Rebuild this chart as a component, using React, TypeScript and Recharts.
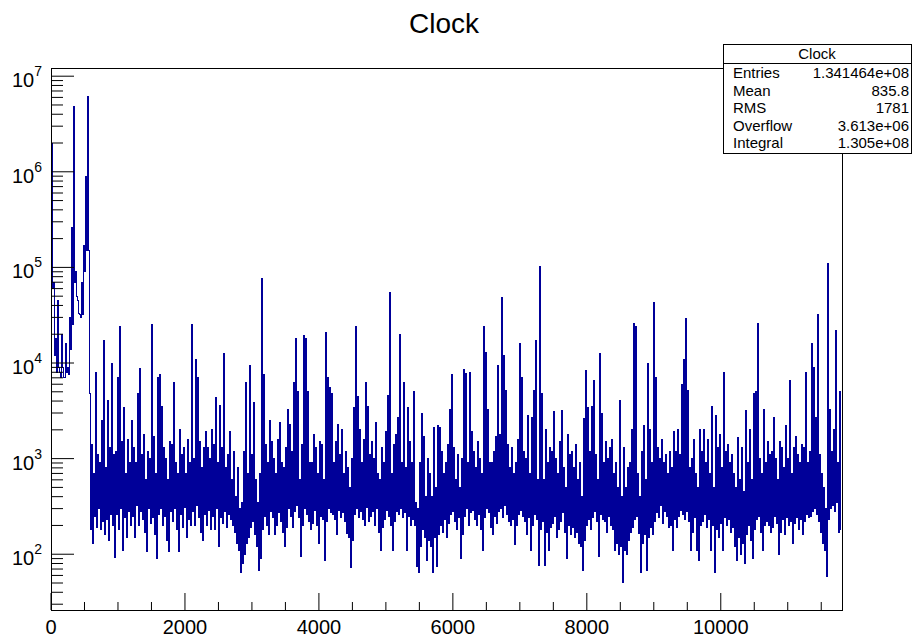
import React from "react";
import { LineChart, Line, XAxis, YAxis } from "recharts";

// ROOT-style "Clock" histogram, log y
const W = 913;
const H = 637;
const FRAME = { left: 51, right: 842, top: 68, bottom: 610 };
const BIN_WIDTH = 29.87;
const X_MAX = 11810;
const Y_MIN = 26.1;
const Y_MAX = 1.218e7;
const LINE = "#000099";
const FONT = "'Liberation Sans', Arial, Helvetica, sans-serif";

// per ~2px column: highest bin content
const counts = [
  2000000, 70000, 18000, 45000, 8000, 20000, 7000, 16000, 9000, 30000,
  260000, 4800000, 90000, 45000, 32000, 70000, 170000, 900000, 6200000, 4800,
  1400, 700, 7900, 1100, 900, 2500, 17000, 800, 4100, 1300,
  10000, 1100, 1200, 7000, 24000, 1500, 3400, 700, 1600, 900,
  2500, 1300, 900, 4800, 8800, 1100, 1800, 600, 1200, 1000,
  25000, 1700, 700, 7000, 7600, 3500, 1300, 1000, 600, 1500,
  1400, 6300, 900, 700, 2000, 1100, 1300, 700, 1600, 900,
  25000, 1000, 11000, 7000, 1500, 800, 1300, 1900, 1300, 1000,
  2000, 1400, 4400, 900, 3600, 1300, 12700, 800, 1100, 1900,
  600, 1200, 400, 800, 300, 350, 1200, 6200, 700, 9500,
  1100, 3900, 600, 350, 700, 76000, 7500, 1400, 900, 2500,
  1500, 1000, 700, 1600, 2400, 900, 800, 1300, 3300, 2300,
  1200, 6200, 18000, 5000, 600, 1400, 19500, 18000, 5000, 900,
  900, 1800, 1300, 700, 1500, 1400, 600, 21000, 7100, 5600,
  4800, 900, 1500, 2300, 1100, 2000, 700, 1200, 800, 500,
  1000, 3400, 24000, 4500, 2000, 900, 1600, 6300, 3500, 1100,
  1500, 1000, 2400, 700, 600, 1300, 900, 1900, 4600, 55000,
  700, 1400, 1800, 2700, 20000, 900, 6300, 800, 3400, 1500,
  900, 5000, 350, 300, 900, 3000, 1700, 400, 1000, 700,
  400, 2100, 500, 2200, 2100, 1200, 700, 900, 1400, 3300,
  7500, 1300, 600, 1100, 500, 1000, 8600, 7800, 900, 7900,
  1900, 1200, 800, 1500, 1000, 700, 24000, 13000, 3300, 900,
  900, 1200, 1700, 9500, 1800, 48000, 12000, 5200, 1400, 800,
  1300, 700, 900, 1600, 16000, 7100, 1200, 1000, 2800, 700,
  2700, 5200, 17000, 600, 103000, 4800, 600, 2000, 900, 1300,
  1200, 3100, 1000, 700, 1500, 3200, 800, 500, 1800, 1100,
  1200, 800, 1400, 600, 900, 400, 2600, 8400, 3400, 1200,
  3500, 6600, 1100, 600, 12700, 3000, 900, 1500, 1000, 1300,
  1600, 700, 900, 500, 4100, 400, 1300, 500, 800, 900,
  2000, 26000, 24000, 700, 400, 1200, 2200, 600, 10000, 2000,
  900, 43000, 7100, 1300, 1000, 1600, 900, 1100, 700, 1200,
  800, 1900, 1200, 2000, 1100, 6000, 11000, 29000, 5200, 800,
  1000, 1600, 700, 500, 2000, 1200, 2000, 900, 1600, 700,
  3500, 500, 2800, 1300, 1800, 800, 7900, 1200, 1400, 900,
  1100, 700, 500, 1650, 600, 1300, 450, 3200, 900, 2000,
  600, 4800, 5000, 26000, 1000, 700, 3300, 900, 1500, 1100,
  1200, 2700, 1000, 600, 1500, 1300, 800, 2200, 1000, 6600,
  700, 1300, 1700, 1100, 900, 1400, 1300, 8000, 900, 1200,
  16000, 9000, 2700, 32000, 1100, 700, 500, 300, 109000, 3300,
  1200, 2000, 22000, 900, 5000,
];

// per column: lowest bin content in the same column
const lows = [
  60000, 12000, 8000, 9000, 7000, 9000, 7000, 8000, 7500, 14000,
  25000, 70000, 50000, 33000, 30000, 32000, 90000, 150000, 150000, 180,
  130, 250, 190, 300, 180, 220, 160, 230, 140, 260,
  200, 92, 260, 180, 300, 110, 240, 150, 280, 200,
  250, 150, 320, 200, 280, 230, 170, 106, 300, 210,
  240, 160, 90, 260, 300, 200, 250, 140, 106, 280,
  220, 300, 180, 106, 260, 190, 310, 150, 230, 200,
  280, 200, 320, 240, 170, 140, 260, 200, 290, 180,
  250, 180, 300, 120, 240, 210, 280, 190, 260, 230,
  200, 170, 130, 110, 64, 80, 100, 130, 150, 190,
  220, 160, 120, 68, 90, 180, 250, 200, 160, 280,
  240, 160, 200, 270, 220, 170, 120, 190, 300, 250,
  190, 280, 320, 240, 95, 200, 300, 260, 220, 180,
  210, 290, 200, 130, 250, 230, 87, 220, 300, 270,
  260, 230, 160, 290, 240, 270, 220, 165, 150, 73,
  140, 260, 300, 240, 280, 230, 200, 310, 220, 250,
  280, 200, 300, 170, 110, 190, 230, 290, 250, 200,
  110, 220, 280, 260, 300, 240, 270, 110, 250, 200,
  230, 200, 75, 64, 120, 180, 150, 85, 140, 120,
  64, 150, 75, 160, 200, 170, 230, 150, 210, 260,
  280, 220, 180, 240, 90, 160, 250, 300, 200, 270,
  290, 230, 200, 260, 180, 110, 240, 300, 270, 190,
  160, 250, 210, 280, 300, 240, 320, 260, 220, 200,
  230, 125, 200, 260, 290, 250, 220, 160, 240, 110,
  200, 260, 230, 77, 180, 220, 77, 170, 110, 190,
  210, 250, 150, 180, 220, 270, 170, 90, 200, 160,
  190, 150, 170, 130, 120, 68, 140, 200, 230, 180,
  240, 280, 220, 94, 260, 230, 220, 170, 250, 200,
  180, 110, 130, 100, 120, 51, 110, 100, 140, 170,
  190, 230, 250, 165, 64, 130, 160, 68, 150, 190,
  160, 220, 270, 240, 320, 210, 280, 250, 190, 200,
  110, 230, 190, 250, 290, 260, 230, 280, 220, 110,
  170, 240, 110, 85, 200, 220, 260, 190, 230, 110,
  200, 64, 180, 150, 210, 110, 240, 200, 230, 170,
  190, 120, 85, 150, 100, 130, 80, 160, 200, 140,
  90, 180, 230, 250, 170, 110, 200, 220, 200, 170,
  190, 250, 210, 100, 170, 230, 160, 240, 200, 220,
  130, 210, 240, 180, 230, 160, 220, 260, 240, 250,
  280, 300, 260, 220, 170, 130, 110, 58, 230, 300,
  320, 280, 350, 170, 180,
];

const xTicks = [
  0, 500, 1000, 1500, 2000, 2500, 3000, 3500, 4000, 4500, 5000, 5500,
  6000, 6500, 7000, 7500, 8000, 8500, 9000, 9500, 10000, 10500, 11000, 11500,
];
const xLabels = [0, 2000, 4000, 6000, 8000, 10000];

const yTicks = [
  30, 40, 50, 60, 70, 80, 90,
  100, 200, 300, 400, 500, 600, 700, 800, 900,
  1000, 2000, 3000, 4000, 5000, 6000, 7000, 8000, 9000,
  10000, 20000, 30000, 40000, 50000, 60000, 70000, 80000, 90000,
  100000, 200000, 300000, 400000, 500000, 600000, 700000, 800000, 900000,
  1000000, 2000000, 3000000, 4000000, 5000000, 6000000, 7000000, 8000000, 9000000,
  10000000,
];
const yDecades = [100, 1000, 10000, 100000, 1000000, 10000000];

const statsTitle = "Clock";
const statsLabels = ["Entries", "Mean", "RMS", "Overflow", "Integral"];
const statsValues = ["1.341464e+08", "835.8", "1781", "3.613e+06", "1.305e+08"];

// each column: max half, then min half
const data = counts.flatMap((c, i) => [
  { x: i * BIN_WIDTH, y: c },
  { x: (i + 0.5) * BIN_WIDTH, y: lows[i] },
]);

const XTick = (props: any) => {
  const { x, payload } = props;
  const v = payload.value as number;
  const major = xLabels.includes(v);
  return (
    <g>
      <line x1={x} x2={x} y1={FRAME.bottom} y2={FRAME.bottom - (major ? 17 : 8)} stroke="#000" strokeWidth={1} />
      {major && (
        <text x={x} y={634} textAnchor="middle" fontSize={20} fontFamily={FONT} fill="#000">
          {v}
        </text>
      )}
    </g>
  );
};

const YTick = (props: any) => {
  const { y, payload } = props;
  const v = payload.value as number;
  const major = yDecades.includes(v);
  const exp = Math.round(Math.log10(v));
  return (
    <g>
      <line x1={FRAME.left} x2={FRAME.left + (major ? 23 : 12)} y1={y} y2={y} stroke="#000" strokeWidth={1} />
      {major && (
        <text x={42} y={y + 11} textAnchor="end" fontSize={20} fontFamily={FONT} fill="#000">
          <tspan>10</tspan>
          <tspan dy={-11} fontSize={14}>{exp}</tspan>
        </text>
      )}
    </g>
  );
};

export default function App() {
  return (
    <div style={{ position: "absolute", left: 0, top: 0, width: W, height: H, background: "#fff" }}>
      <LineChart
        width={W}
        height={H}
        data={data}
        margin={{ top: FRAME.top, right: W - FRAME.right, bottom: 0, left: 0 }}
      >
        <XAxis
          dataKey="x"
          type="number"
          domain={[0, X_MAX]}
          ticks={xTicks}
          interval={0}
          tick={XTick}
          tickLine={false}
          axisLine={false}
          height={H - FRAME.bottom}
          allowDataOverflow
        />
        <YAxis
          scale="log"
          domain={[Y_MIN, Y_MAX]}
          ticks={yTicks}
          interval={0}
          tick={YTick}
          tickLine={false}
          axisLine={false}
          width={FRAME.left}
          allowDataOverflow
        />
        <Line
          type="stepAfter"
          dataKey="y"
          stroke={LINE}
          strokeWidth={1}
          shapeRendering="crispEdges"
          dot={false}
          isAnimationActive={false}
        />
      </LineChart>
      <svg
        width={W}
        height={H}
        style={{ position: "absolute", left: 0, top: 0, pointerEvents: "none" }}
      >
        <rect
          x={FRAME.left + 0.5}
          y={FRAME.top + 0.5}
          width={FRAME.right - FRAME.left}
          height={FRAME.bottom - FRAME.top}
          fill="none"
          stroke="#000"
        />
        <text x={444} y={33} textAnchor="middle" fontSize={28} fontFamily={FONT} fill="#000">
          Clock
        </text>
        <rect x={723.5} y={44.5} width={188} height={109} fill="#fff" stroke="#000" />
        <line x1={723.5} x2={911.5} y1={63.5} y2={63.5} stroke="#000" />
        <text x={817} y={59} textAnchor="middle" fontSize={15} fontFamily={FONT} fill="#000">
          {statsTitle}
        </text>
        {statsLabels.map((label, i) => (
          <g key={label}>
            <text x={733} y={78 + i * 17.5} fontSize={15} fontFamily={FONT} fill="#000">
              {label}
            </text>
            <text x={909} y={78 + i * 17.5} textAnchor="end" fontSize={15} fontFamily={FONT} fill="#000">
              {statsValues[i]}
            </text>
          </g>
        ))}
      </svg>
    </div>
  );
}
